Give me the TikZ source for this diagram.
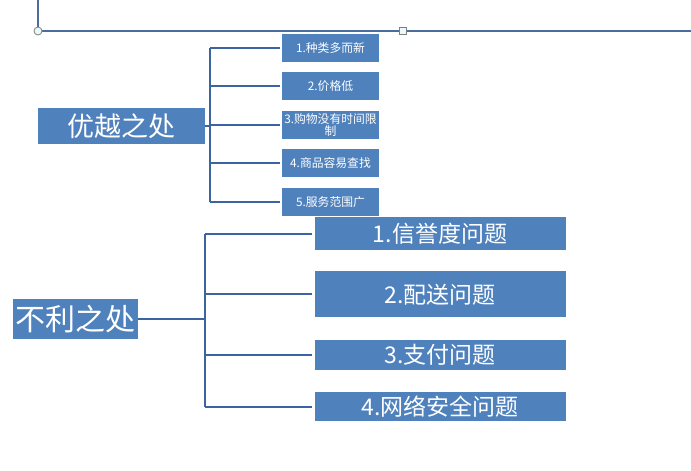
\documentclass[tikz,border=0pt]{standalone}
\usepackage{fontspec}
\newfontfamily\cjk{Noto Sans CJK SC}
\usepackage{xcolor}
\usetikzlibrary{positioning}
\definecolor{biru}{HTML}{4F81BD}
\definecolor{garisbiru}{HTML}{3C64A0}
\definecolor{garistipis}{HTML}{4A6D9E}

\begin{document}
\begin{tikzpicture}[
    x=1pt, y=-1pt,
    node distance=10pt,
    induk/.style={fill=biru, text=white, inner sep=0pt, font=\cjk\fontsize{27}{29}\selectfont},
    butir/.style={fill=biru, text=white, inner sep=0pt, align=center, minimum width=97pt,
                  minimum height=28pt, font=\cjk\fontsize{11.8}{12.5}\selectfont},
    masalah/.style={fill=biru, text=white, inner sep=0pt, minimum width=251pt,
                    font=\cjk\fontsize{23}{25}\selectfont},
    cabang/.style={draw=garisbiru, line width=2pt},
    pegangan/.style={draw=gray, fill=cyan!8, line width=0.8pt, inner sep=0pt}
  ]
    \useasboundingbox (0,0) rectangle (691,471);
    % garis di atas
    \coordinate (atas) at (38,0);
    \coordinate (pa) at (38,31);
    \coordinate (ujung) at (691,31);
    \draw[garistipis, line width=1.2pt] (atas) -- (pa) -- (ujung);
    \node[pegangan, circle, minimum size=8pt] (hc) at (pa) {};
    \node[pegangan, minimum size=7pt] (hs) at (403,31) {};

    % bagian atas
    \node[induk, minimum width=167pt, minimum height=36pt] (ung) at (121.5,126) {优越之处};
    \node[butir] (u1) at (330.5,48) {1.种类多而新};
    \node[butir, below=of u1] (u2) {2.价格低};
    \node[butir, below=of u2] (u3) {3.购物没有时间限\\制};
    \node[butir, below=of u3] (u4) {4.商品容易查找};
    \node[butir, below=of u4] (u5) {5.服务范围广};
    \coordinate (uk) at (210,126);
    \draw[cabang] (ung.east) -- (uk);
    \draw[cabang] (uk |- u1.west) -- (uk |- u5.west);
    \foreach \i in {1,...,5}
      \draw[cabang] (uk |- u\i.west) -- ([xshift=-2pt]u\i.west);

    % bagian bawah
    \node[induk, minimum width=125pt, minimum height=40pt, font=\cjk\fontsize{30}{32}\selectfont] (rug) at (75.5,319) {不利之处};
    \node[masalah, minimum height=33pt] (r1) at (440,233.5) {1.信誉度问题};
    \node[masalah, minimum height=46pt, below=21pt of r1] (r2) {2.配送问题};
    \node[masalah, minimum height=30pt, below=22pt of r2] (r3) {3.支付问题};
    \node[masalah, minimum height=29pt, below=22pt of r3] (r4) {4.网络安全问题};
    \coordinate (rk) at (205,319);
    \draw[cabang] (rug.east) -- (rk);
    \draw[cabang] (rk |- r1.west) -- (rk |- r4.west);
    \foreach \i in {1,...,4}
      \draw[cabang] (rk |- r\i.west) -- ([xshift=-2pt]r\i.west);
  \end{tikzpicture}
\end{document}
